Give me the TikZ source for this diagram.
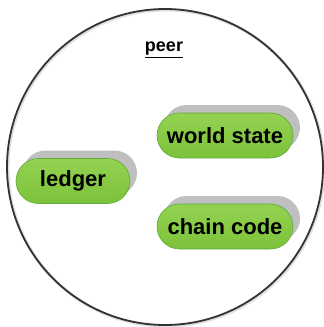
\documentclass[tikz,border=0pt]{standalone}
\usepackage{fontspec}
\setmainfont{Liberation Sans}
\usetikzlibrary{shapes.misc,shadows}
\definecolor{pillTop}{HTML}{93D252}
\definecolor{pillBot}{HTML}{7DC23A}
\definecolor{pillEdge}{HTML}{5FA83A}
\definecolor{pillShadow}{HTML}{BFBFBF}
\tikzset{
  pill/.style={rounded rectangle, draw=pillEdge, line width=0.6pt,
    top color=pillTop, bottom color=pillBot, minimum height=45pt,
    inner sep=0pt, font=\fontsize{22}{22}\selectfont\bfseries,
    drop shadow={shadow xshift=7pt, shadow yshift=8pt, fill=pillShadow, opacity=1}},
}
\begin{document}
\begin{tikzpicture}[x=1pt, y=-1pt]
    \useasboundingbox (0,0) rectangle (324,327);
    % Peer boundary
    \draw[line width=3pt, black!12] (166,168) circle (158);
    \node[draw=black!80, line width=1.8pt, circle, minimum size=316pt, inner sep=0pt] (peer) at (165,167) {};
    \node[font=\fontsize{18}{18}\selectfont\bfseries] (peerlabel) at (164,50) {\underline{peer}};
    
    % Components
    \node[pill, minimum width=114pt] (ledger) at (73,181) {ledger};
    \node[pill, minimum width=136pt] (world) at (225,135.5) {world state};
    \node[pill, minimum width=136pt] (chain) at (225,226.5) {chain code};
  \end{tikzpicture}
\end{document}
